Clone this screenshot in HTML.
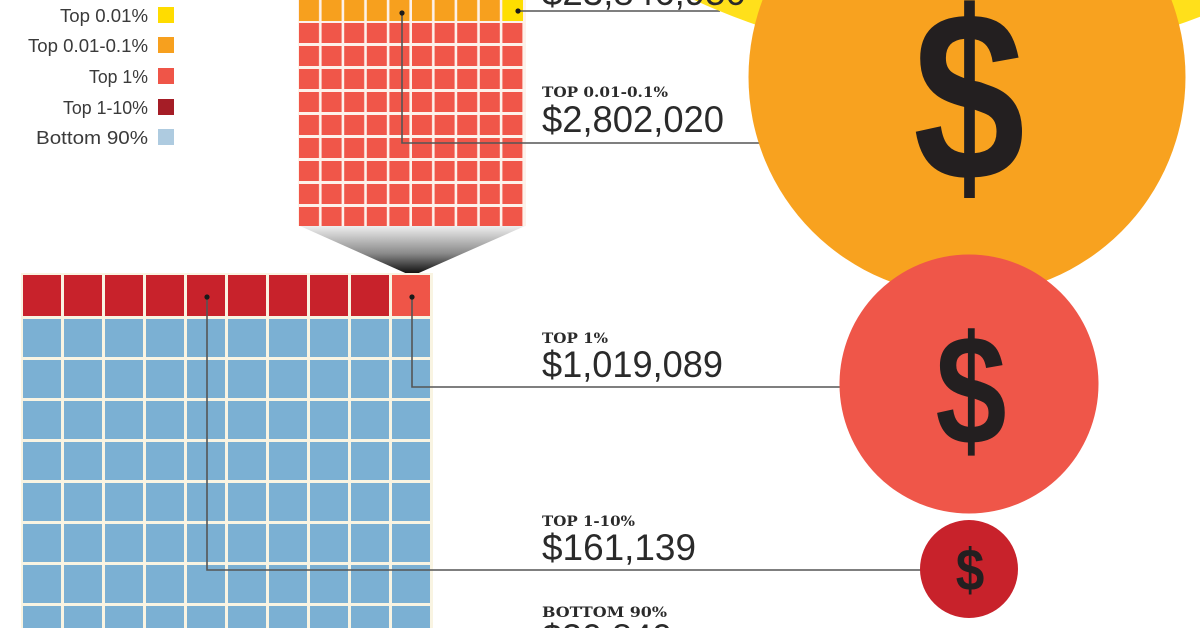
<!DOCTYPE html>
<html>
<head>
<meta charset="utf-8">
<style>
  html,body{margin:0;padding:0;background:#fff;}
  body{width:1200px;height:628px;overflow:hidden;}
  svg{display:block;}
</style>
</head>
<body>
<svg width="1200" height="628" viewBox="0 0 1200 628" xmlns="http://www.w3.org/2000/svg">
  <defs>
    <pattern id="blue" patternUnits="userSpaceOnUse" x="23" y="319" width="41" height="41">
      <rect x="0" y="0" width="38" height="38" fill="#7bb0d3"/>
    </pattern>
    <pattern id="redsmall" patternUnits="userSpaceOnUse" x="299" y="23" width="22.6" height="23">
      <rect x="0" y="0" width="20" height="20" fill="#f05649"/>
    </pattern>
    <pattern id="orangesmall" patternUnits="userSpaceOnUse" x="299" y="0" width="22.6" height="23">
      <rect x="0" y="0" width="20" height="21" fill="#f7a01e"/>
    </pattern>
    <linearGradient id="funnel" x1="0" y1="0" x2="0" y2="1">
      <stop offset="0" stop-color="#eeeeee"/>
      <stop offset="0.55" stop-color="#8a8a8a"/>
      <stop offset="1" stop-color="#000000"/>
    </linearGradient>
  </defs>

  <!-- Legend -->
  <g font-family="Liberation Sans, sans-serif" font-size="18" fill="#3a3a3a" text-anchor="end">
    <text x="148" y="22" textLength="88" lengthAdjust="spacingAndGlyphs">Top 0.01%</text>
    <text x="148" y="52" textLength="120" lengthAdjust="spacingAndGlyphs">Top 0.01-0.1%</text>
    <text x="148" y="83" textLength="59" lengthAdjust="spacingAndGlyphs">Top 1%</text>
    <text x="148" y="114" textLength="85" lengthAdjust="spacingAndGlyphs">Top 1-10%</text>
    <text x="148" y="144" textLength="112" lengthAdjust="spacingAndGlyphs">Bottom 90%</text>
  </g>
  <rect x="158" y="7" width="16" height="16" fill="#ffdc00"/>
  <rect x="158" y="37" width="16" height="16" fill="#f7a01e"/>
  <rect x="158" y="68" width="16" height="16" fill="#ef5548"/>
  <rect x="158" y="99" width="16" height="16" fill="#a51d26"/>
  <rect x="158" y="129" width="16" height="16" fill="#aecbe0"/>

  <!-- Top small grid -->
  <rect x="298" y="0" width="228" height="226" fill="#fdf1ea"/>
  <rect x="299" y="0" width="226" height="21" fill="url(#orangesmall)"/>
  <rect x="502.4" y="0" width="20.6" height="21" fill="#fede00"/>
  <rect x="299" y="23" width="226" height="203" fill="url(#redsmall)"/>

  <!-- Funnel -->
  <polygon points="300,226 525,226 412,276" fill="url(#funnel)"/>

  <!-- Bottom grid -->
  <rect x="21" y="273" width="412" height="360" fill="#f9f4e2"/>
  <g fill="#c8222b">
    <rect x="23" y="275" width="38" height="41"/>
    <rect x="64" y="275" width="38" height="41"/>
    <rect x="105" y="275" width="38" height="41"/>
    <rect x="146" y="275" width="38" height="41"/>
    <rect x="187" y="275" width="38" height="41"/>
    <rect x="228" y="275" width="38" height="41"/>
    <rect x="269" y="275" width="38" height="41"/>
    <rect x="310" y="275" width="38" height="41"/>
    <rect x="351" y="275" width="38" height="41"/>
  </g>
  <rect x="392" y="275" width="38" height="41" fill="#ef5548"/>
  <rect x="23" y="319" width="410" height="320" fill="url(#blue)"/>

  <!-- Connector lines -->
  <g stroke="#555" stroke-width="1.6" fill="none">
    <polyline points="518,11 720,11"/>
    <polyline points="402,13 402,143 760,143"/>
    <polyline points="412,297 412,387 842,387"/>
    <polyline points="207,297 207,570 922,570"/>
  </g>
  <g fill="#1a1a1a">
    <circle cx="518" cy="11" r="2.6"/>
    <circle cx="402" cy="13" r="2.6"/>
    <circle cx="412" cy="297" r="2.6"/>
    <circle cx="207" cy="297" r="2.6"/>
  </g>

  <!-- Circles -->
  <circle cx="967" cy="-590" r="650" fill="#ffe01b"/>
  <circle cx="967" cy="77" r="218.5" fill="#f8a21f"/>
  <circle cx="969" cy="384" r="129.5" fill="#ef5649"/>
  <circle cx="969" cy="569" r="49" fill="#c8222b"/>

  <!-- Dollar signs -->
  <g font-family="Liberation Sans, DejaVu Sans, sans-serif" font-weight="bold" fill="#231f20" text-anchor="middle">
    <text transform="translate(969,180) scale(0.83,1)" x="0" y="0" font-size="242">$</text>
    <text transform="translate(971,444) scale(0.82,1)" x="0" y="0" font-size="156">$</text>
    <text transform="translate(970,590) scale(0.87,1)" x="0" y="0" font-size="59">$</text>
  </g>

  <!-- Value labels -->
  <g font-family="DejaVu Serif, Liberation Serif, serif" font-weight="bold" font-size="14" fill="#2a2a2a">
    <text x="542" y="97" textLength="126" lengthAdjust="spacingAndGlyphs">TOP 0.01-0.1%</text>
    <text x="542" y="343" textLength="66" lengthAdjust="spacingAndGlyphs">TOP 1%</text>
    <text x="542" y="526" textLength="93" lengthAdjust="spacingAndGlyphs">TOP 1-10%</text>
    <text x="542" y="617" textLength="125" lengthAdjust="spacingAndGlyphs">BOTTOM 90%</text>
  </g>
  <g font-family="Liberation Sans, sans-serif" font-size="37" fill="#2a2a2a">
    <text x="542" y="5" textLength="204" lengthAdjust="spacingAndGlyphs">$23,846,950</text>
    <text x="542" y="132" textLength="182" lengthAdjust="spacingAndGlyphs">$2,802,020</text>
    <text x="542" y="377" textLength="181" lengthAdjust="spacingAndGlyphs">$1,019,089</text>
    <text x="542" y="560" textLength="154" lengthAdjust="spacingAndGlyphs">$161,139</text>
    <text x="542" y="650" textLength="130" lengthAdjust="spacingAndGlyphs">$30,840</text>
  </g>
</svg>
</body>
</html>
